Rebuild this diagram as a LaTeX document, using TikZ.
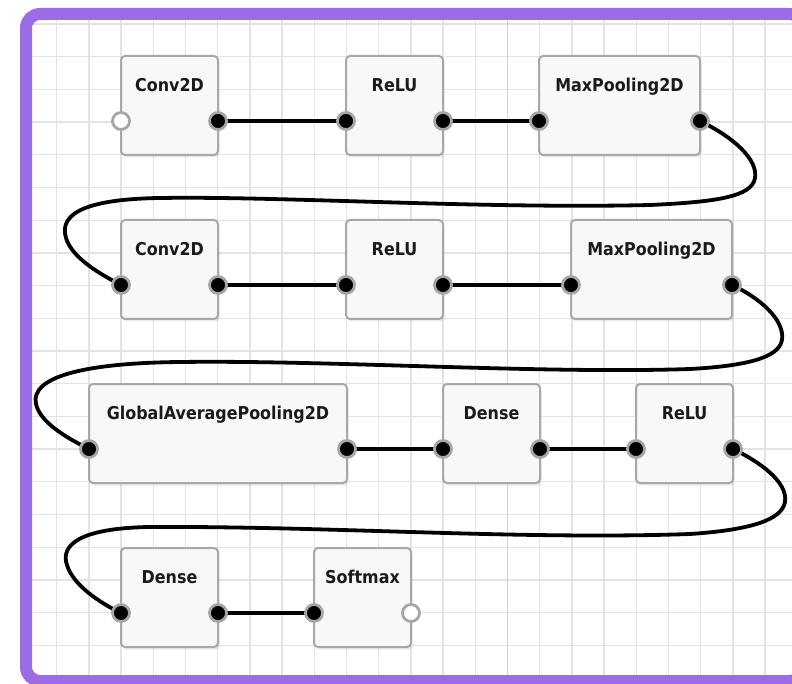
\documentclass[tikz,border=0pt]{standalone}
\usepackage{fontspec}
\newfontfamily\layerfont{DejaVu Sans Condensed}
\usetikzlibrary{positioning,shadows,backgrounds}
\definecolor{Frame}{HTML}{9C6CE6}
\definecolor{GridLine}{HTML}{E3E3E3}
\definecolor{GridDark}{HTML}{D2D2D2}
\definecolor{BoxFill}{HTML}{F8F8F8}
\definecolor{BoxEdge}{HTML}{A8A8A8}
\definecolor{PortRing}{HTML}{A6A6A6}
\definecolor{Label}{HTML}{1A1A1A}
\tikzset{
  layer/.style={
    rectangle, rounded corners=4pt, draw=BoxEdge, line width=2pt, fill=BoxFill,
    minimum width=97pt, minimum height=99pt, outer sep=0pt, anchor=north west,
    text height=12.8pt, text depth=41.2pt, text=Label,
    font=\layerfont\bfseries\fontsize{17.7}{20}\selectfont,
    drop shadow={shadow xshift=1.5pt, shadow yshift=-2.5pt, opacity=0.15}
  },
  widelayer/.style={layer, minimum width=161pt},
  port/.style={
    circle, fill=black, draw=PortRing, line width=2.8pt,
    minimum size=17pt, inner sep=0pt
  },
  freeport/.style={port, fill=white},
  wire/.style={line width=3.8pt, draw=black, line cap=round},
  gridline/.style={line width=1.3pt, draw=GridLine}
}
\begin{document}
\begin{tikzpicture}[x=1pt,y=-1pt]
  \useasboundingbox (0,0) rectangle (792,684);
  \begin{scope}[on background layer]
    \fill[white] (0,0) rectangle (792,684);
    \begin{scope}
      \clip (32,20) rectangle (800,676);
      \foreach \k in {-1,...,23}
        \draw[gridline] ({56.7+32.2*\k},0) -- ({56.7+32.2*\k},684);
      \foreach \k in {0,...,20}
        \draw[gridline] (0,{24+32.7*\k}) -- (800,{24+32.7*\k});
      \draw[gridline,draw=GridDark] (507.5,0) -- (507.5,684);
    \end{scope}
    \draw[line width=12pt, draw=Frame, rounded corners=14pt] (26,14) rectangle (803,681);
  \end{scope}

  % row 1
  \node[layer] (conv1) at (121,56) {Conv2D};
  \node[layer,right=128pt of conv1] (relu1) {ReLU};
  \node[widelayer,right=96pt of relu1] (pool1) {MaxPooling2D};
  % row 2
  \node[layer] (conv2) at (121,220) {Conv2D};
  \node[layer,right=128pt of conv2] (relu2) {ReLU};
  \node[widelayer,right=128pt of relu2] (pool2) {MaxPooling2D};
  % row 3
  \node[layer,minimum width=258pt] (gap) at (89,384) {GlobalAveragePooling2D};
  \node[layer,right=96pt of gap] (dense3) {Dense};
  \node[layer,right=96pt of dense3] (relu3) {ReLU};
  % row 4
  \node[layer] (dense4) at (121,548) {Dense};
  \node[layer,right=96pt of dense4] (soft) {Softmax};

  % ports
  \node[freeport] (conv1-in) at ([yshift=-15.5pt]conv1.west) {};
  \foreach \n in {relu1,pool1,conv2,relu2,pool2,gap,dense3,relu3,dense4,soft}
    \node[port] (\n-in) at ([yshift=-15.5pt]\n.west) {};
  \foreach \n in {conv1,relu1,pool1,conv2,relu2,pool2,gap,dense3,relu3,dense4}
    \node[port] (\n-out) at ([yshift=-15.5pt]\n.east) {};
  \node[freeport] (soft-out) at ([yshift=-15.5pt]soft.east) {};

  \begin{scope}[on background layer]
    \draw[wire] (conv1-out.center) -- (relu1-in.center);
    \draw[wire] (relu1-out.center) -- (pool1-in.center);
    \draw[wire] (pool1-out.center) .. controls (735,138) and (758,160) .. (755,178)
      .. controls (752,197) and (715,202) .. (650,205)
      .. controls (480,209) and (280,196) .. (160,198)
      .. controls (90,199) and (58,212) .. (66,238)
      .. controls (72,258) and (100,274) .. (conv2-in.center);
    \draw[wire] (conv2-out.center) -- (relu2-in.center);
    \draw[wire] (relu2-out.center) -- (pool2-in.center);
    \draw[wire] (pool2-out.center) .. controls (760,298) and (785,320) .. (782,340)
      .. controls (779,358) and (745,366) .. (690,369)
      .. controls (540,374) and (330,360) .. (180,362)
      .. controls (80,363) and (30,378) .. (36,404)
      .. controls (40,422) and (65,437) .. (gap-in.center);
    \draw[wire] (gap-out.center) -- (dense3-in.center);
    \draw[wire] (dense3-out.center) -- (relu3-in.center);
    \draw[wire] (relu3-out.center) .. controls (760,462) and (788,482) .. (785,502)
      .. controls (782,520) and (750,530) .. (690,534)
      .. controls (520,540) and (330,526) .. (150,527)
      .. controls (80,528) and (60,545) .. (67,565)
      .. controls (73,585) and (100,603) .. (dense4-in.center);
    \draw[wire] (dense4-out.center) -- (soft-in.center);
  \end{scope}
\end{tikzpicture}
\end{document}
